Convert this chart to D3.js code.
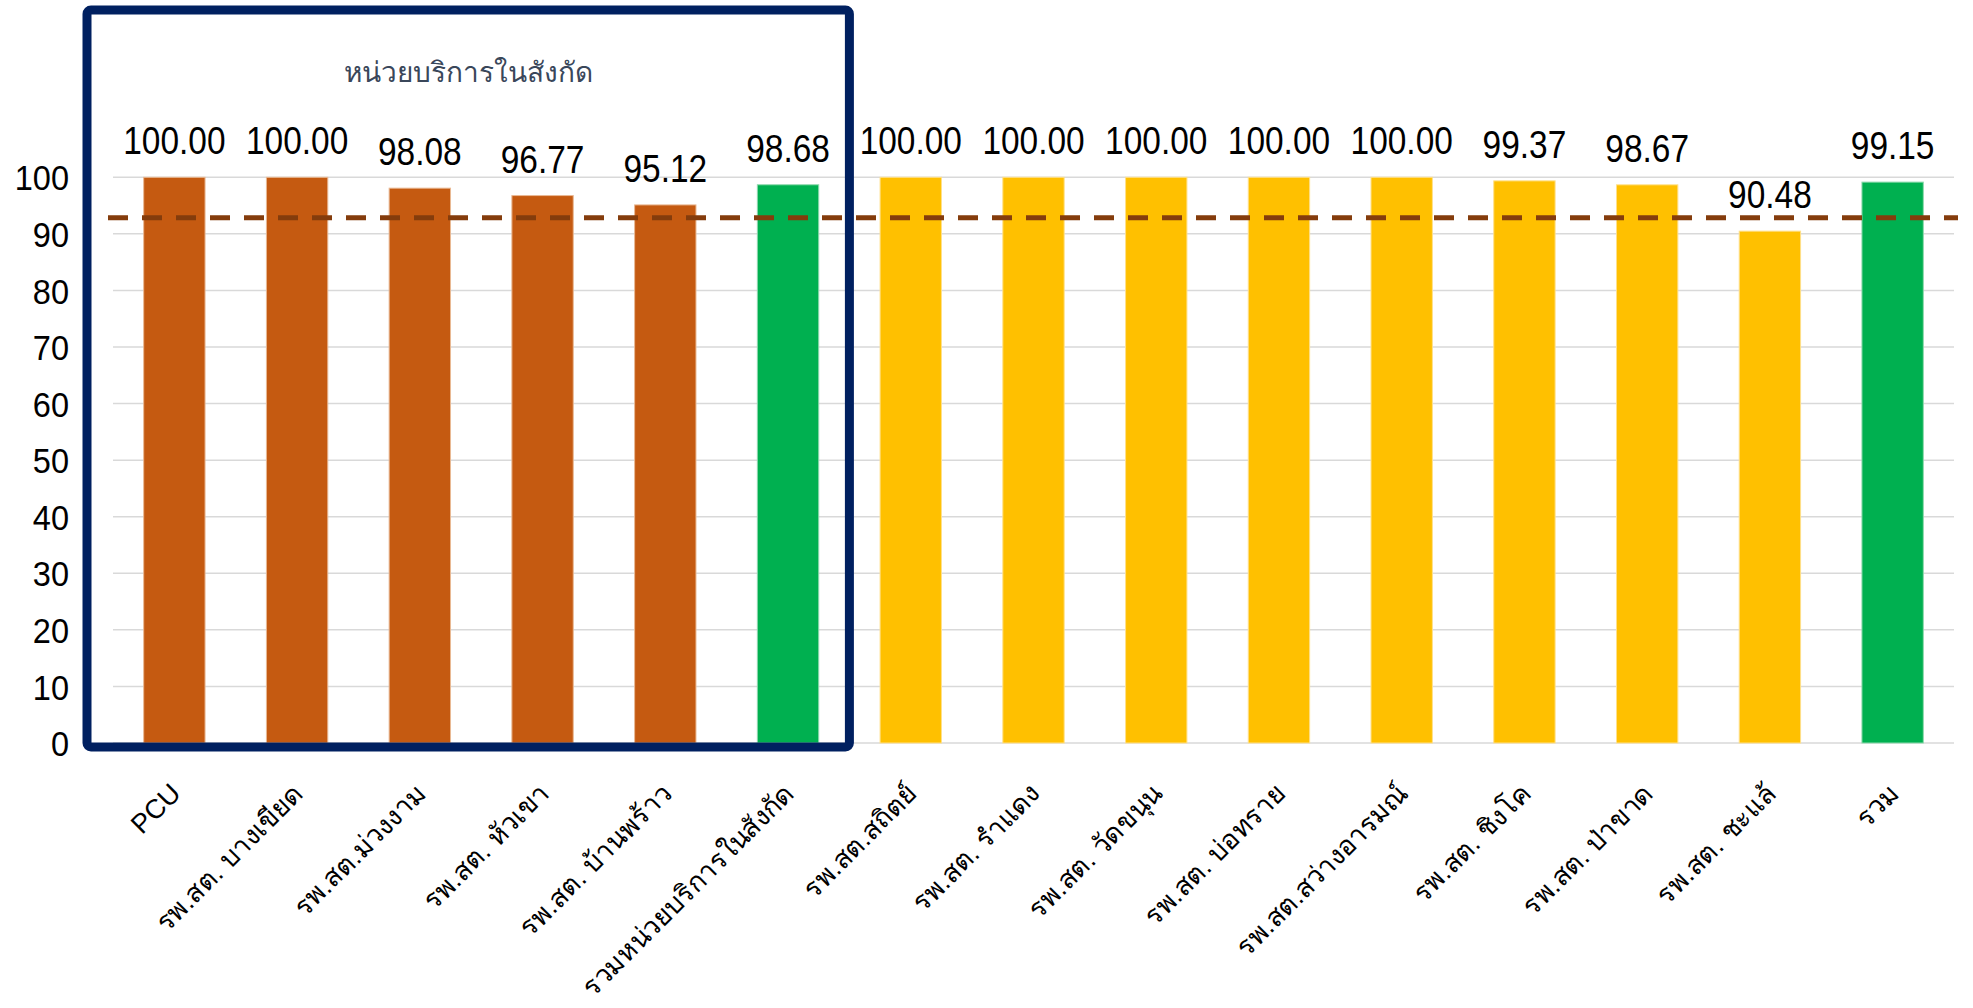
<!DOCTYPE html>
<html>
<head>
<meta charset="utf-8">
<script src="https://cdn.jsdelivr.net/npm/d3@7/dist/d3.min.js"></script>
<style>
  html, body { margin: 0; padding: 0; background: #ffffff; }
  svg { display: block; }
  text { font-family: "Liberation Sans", "Noto Sans", sans-serif; }
</style>
</head>
<body>
<svg id="chart" width="1973" height="1008"></svg>
<script>
// ---------- data ----------
const categories = [
  "PCU",
  "รพ.สต. บางเขียด",
  "รพ.สต.ม่วงงาม",
  "รพ.สต. หัวเขา",
  "รพ.สต. บ้านพร้าว",
  "รวมหน่วยบริการในสังกัด",
  "รพ.สต.สถิตย์",
  "รพ.สต. รำแดง",
  "รพ.สต. วัดขนุน",
  "รพ.สต. บ่อทราย",
  "รพ.สต.สว่างอารมณ์",
  "รพ.สต. ชิงโค",
  "รพ.สต. ป่าขาด",
  "รพ.สต. ชะแล้",
  "รวม"
];
const values = [100.00, 100.00, 98.08, 96.77, 95.12, 98.68, 100.00, 100.00, 100.00, 100.00, 100.00, 99.37, 98.67, 90.48, 99.15];
const groups = ["own", "own", "own", "own", "own", "total", "other", "other", "other", "other", "other", "other", "other", "other", "total"];
const yTicks = [0, 10, 20, 30, 40, 50, 60, 70, 80, 90, 100];
const targetValue = 92.86;
const boxTitle = "หน่วยบริการในสังกัด";
const ownCount = 6; // categories inside the highlighted box

// ---------- styles ----------
const colors = { own: "#C55A11", total: "#00B050", other: "#FFC000" };
const edge = { own: "#E9B994", total: "#8FD9AE", other: "#FFE08A" };

const svg = d3.select("#chart");

const x = d3.scaleBand()
  .domain(categories)
  .range([113, 1954])
  .paddingInner(0.5)
  .paddingOuter(0.25);

const y = d3.scaleLinear()
  .domain([0, 100])
  .range([743, 177.3]);

// gridlines
svg.append("g")
  .selectAll("line")
  .data(yTicks)
  .join("line")
  .attr("x1", 113)
  .attr("x2", 1954)
  .attr("y1", d => y(d))
  .attr("y2", d => y(d))
  .attr("stroke", "#D9D9D9")
  .attr("stroke-width", 1.5);

// y axis labels (slightly condensed)
const yAxis = d3.axisLeft(y).tickValues(yTicks).tickSize(0).tickPadding(0).tickFormat(d3.format("d"));
const yg = svg.append("g")
  .attr("transform", "translate(69,0)")
  .call(yAxis);
yg.select(".domain").remove();
yg.selectAll(".tick text")
  .attr("font-size", 35)
  .attr("fill", "#000")
  .attr("x", 0)
  .attr("dy", "0.36em")
  .attr("transform", "scale(0.93,1)")
  .style("font-family", "'Liberation Sans', 'Noto Sans', sans-serif");

// bars
svg.append("g")
  .selectAll("rect")
  .data(categories)
  .join("rect")
  .attr("x", d => x(d))
  .attr("width", x.bandwidth())
  .attr("y", (d, i) => y(values[i]))
  .attr("height", (d, i) => y(0) - y(values[i]))
  .attr("fill", (d, i) => colors[groups[i]])
  .attr("stroke", (d, i) => edge[groups[i]])
  .attr("stroke-width", 1);

// target dashed line
svg.append("line")
  .attr("x1", 108)
  .attr("x2", 1958)
  .attr("y1", y(targetValue))
  .attr("y2", y(targetValue))
  .attr("stroke", "#843C0C")
  .attr("stroke-width", 5)
  .attr("stroke-dasharray", "20,14");

// value labels (condensed look)
svg.append("g")
  .selectAll("text")
  .data(categories)
  .join("text")
  .attr("transform", (d, i) => `translate(${x(d) + x.bandwidth() / 2},${y(values[i]) - 23}) scale(0.88,1)`)
  .attr("text-anchor", "middle")
  .attr("font-size", 38)
  .attr("fill", "#000")
  .text((d, i) => values[i].toFixed(2));

// x axis labels (rotated)
const xAxis = d3.axisBottom(x).tickSize(0).tickPadding(0);
const xg = svg.append("g")
  .attr("transform", `translate(0,${y(0)})`)
  .call(xAxis);
xg.select(".domain").remove();
xg.selectAll(".tick text")
  .attr("font-size", 27)
  .attr("fill", "#000")
  .attr("text-anchor", "end")
  .attr("x", 0)
  .attr("y", 0)
  .attr("dy", 0)
  .attr("transform", "translate(8,52) rotate(-45)")
  .style("font-family", "'Liberation Sans', 'Noto Sans', sans-serif");

// highlighted box around own units
const step = x.step();
const boxLeft = x.range()[0] - 26;
const boxRight = x.range()[0] + ownCount * step;
const boxTop = 10;
const boxBottom = y(0) + 4;
svg.append("rect")
  .attr("x", boxLeft)
  .attr("y", boxTop)
  .attr("width", boxRight - boxLeft)
  .attr("height", boxBottom - boxTop)
  .attr("rx", 4)
  .attr("fill", "none")
  .attr("stroke", "#002060")
  .attr("stroke-width", 9);

svg.append("text")
  .attr("x", (boxLeft + boxRight) / 2)
  .attr("y", 82)
  .attr("text-anchor", "middle")
  .attr("font-size", 28)
  .attr("fill", "#3A475A")
  .text(boxTitle);
</script>
</body>
</html>
